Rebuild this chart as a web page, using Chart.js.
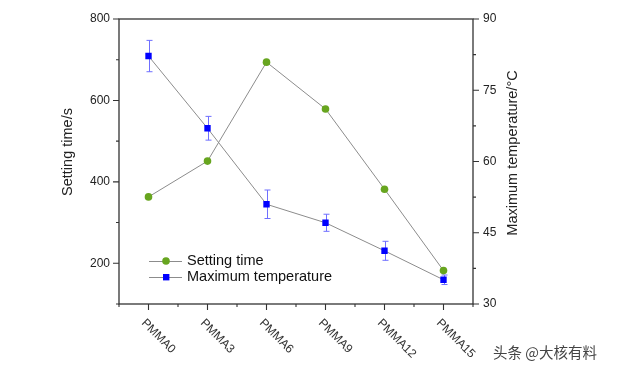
<!DOCTYPE html>
<html>
<head>
<meta charset="utf-8">
<script src="https://cdn.jsdelivr.net/npm/chart.js@4/dist/chart.umd.min.js"></script>
<style>
html, body { margin: 0; padding: 0; background: #fff; }
</style>
</head>
<body>
<canvas id="chart" width="617" height="371"></canvas>
<script>
// data
const categories = ['PMMA0', 'PMMA3', 'PMMA6', 'PMMA9', 'PMMA12', 'PMMA15'];
const settingTime = [363, 451, 694, 579, 382, 182];
const maxTemp = [82.2, 67.0, 51.0, 47.1, 41.2, 35.1];
const maxTempErr = [3.3, 2.5, 3.0, 1.8, 2.0, 1.0];
const leftTickLabels = [200, 400, 600, 800];
const rightTickLabels = [30, 45, 60, 75, 90];

const green = '#67a51f';
const blue = '#0000ff';
const errColor = '#6f6fff';
const lineColor = '#8c8c8c';
const axisColor = '#333';
const fontFamily = '"Liberation Sans", Arial, sans-serif';

Chart.defaults.font.family = fontFamily;

const framePlugin = {
    id: 'frame',
    beforeDatasetsDraw(chart) {
        const ctx = chart.ctx;
        const x = chart.scales.x, yR = chart.scales.yR;
        ctx.save();
        ctx.strokeStyle = errColor;
        ctx.lineWidth = 1;
        maxTemp.forEach(function(v, i) {
            const px = Math.round(x.getPixelForValue(i)) + 0.5;
            const top = yR.getPixelForValue(v + maxTempErr[i]);
            const bot = yR.getPixelForValue(v - maxTempErr[i]);
            ctx.beginPath();
            ctx.moveTo(px, top); ctx.lineTo(px, bot);
            ctx.moveTo(px - 3, top); ctx.lineTo(px + 3, top);
            ctx.moveTo(px - 3, bot); ctx.lineTo(px + 3, bot);
            ctx.stroke();
        });
        ctx.restore();
    },
    afterDraw(chart) {
        const ctx = chart.ctx;
        const a = chart.chartArea;
        const x = chart.scales.x, yL = chart.scales.yL, yR = chart.scales.yR;
        ctx.save();

        // frame
        ctx.strokeStyle = axisColor;
        ctx.lineWidth = 1.3;
        ctx.strokeRect(a.left, a.top, a.right - a.left, a.bottom - a.top);

        // tick marks
        ctx.lineWidth = 1.1;
        ctx.beginPath();
        yL.ticks.forEach(function(t) {
            const py = yL.getPixelForValue(t.value);
            const len = leftTickLabels.includes(t.value) ? 6 : 3;
            ctx.moveTo(a.left - len, py); ctx.lineTo(a.left, py);
        });
        yR.ticks.forEach(function(t) {
            const py = yR.getPixelForValue(t.value);
            const major = rightTickLabels.some(v => Math.abs(v - t.value) < 0.01);
            ctx.moveTo(a.right, py); ctx.lineTo(a.right + (major ? 6 : 3), py);
        });
        categories.forEach(function(c, i) {
            const px = x.getPixelForValue(i);
            ctx.moveTo(px, a.bottom); ctx.lineTo(px, a.bottom + 6);
            const half = (x.getPixelForValue(1) - x.getPixelForValue(0)) / 2;
            ctx.moveTo(px - half, a.bottom); ctx.lineTo(px - half, a.bottom + 3);
            ctx.moveTo(px + half, a.bottom); ctx.lineTo(px + half, a.bottom + 3);
        });
        ctx.stroke();

        // rotated category labels
        ctx.fillStyle = '#333';
        ctx.font = '12px ' + fontFamily;
        ctx.textAlign = 'left';
        ctx.textBaseline = 'top';
        categories.forEach(function(c, i) {
            const px = x.getPixelForValue(i);
            ctx.save();
            ctx.translate(px - 1, a.bottom + 13);
            ctx.rotate(Math.PI / 4);
            ctx.fillText(c, 0, 0);
            ctx.restore();
        });

        // axis titles
        ctx.fillStyle = '#222';
        ctx.font = '14.5px ' + fontFamily;
        ctx.textAlign = 'center';
        ctx.textBaseline = 'middle';
        ctx.save();
        ctx.translate(68, 152);
        ctx.rotate(-Math.PI / 2);
        ctx.fillText('Setting time/s', 0, 0);
        ctx.restore();
        ctx.save();
        ctx.translate(513, 153);
        ctx.rotate(-Math.PI / 2);
        ctx.fillText('Maximum temperature/\u00B0C', 0, 0);
        ctx.restore();

        // legend
        const rows = [
            { label: chart.data.datasets[0].label, y: 261, shape: 'circle' },
            { label: chart.data.datasets[1].label, y: 277, shape: 'rect' }
        ];
        ctx.textAlign = 'left';
        rows.forEach(function(r) {
            ctx.strokeStyle = lineColor;
            ctx.lineWidth = 1;
            ctx.beginPath();
            ctx.moveTo(149, r.y + 0.5); ctx.lineTo(182, r.y + 0.5);
            ctx.stroke();
            if (r.shape === 'circle') {
                ctx.fillStyle = green;
                ctx.beginPath();
                ctx.arc(166, r.y, 3.8, 0, Math.PI * 2);
                ctx.fill();
            } else {
                ctx.fillStyle = blue;
                ctx.fillRect(163, r.y - 3, 6.4, 6.4);
            }
            ctx.fillStyle = '#111';
            ctx.fillText(r.label, 187, r.y);
        });

        // watermark
        ctx.fillStyle = '#444';
        ctx.font = '14.5px "Noto Sans CJK SC", sans-serif';
        ctx.fillText('头条 @大核有料', 493, 352);
        ctx.restore();
    }
};

const ctx = document.getElementById('chart').getContext('2d');
const chart = new Chart(ctx, {
    type: 'line',
    data: {
        labels: categories,
        datasets: [{
            label: 'Setting time',
            data: settingTime,
            yAxisID: 'yL',
            borderColor: lineColor,
            borderWidth: 1,
            tension: 0,
            pointStyle: 'circle',
            pointRadius: 3.8,
            pointBorderWidth: 0,
            pointBackgroundColor: green,
            pointBorderColor: green
        }, {
            label: 'Maximum temperature',
            data: maxTemp,
            yAxisID: 'yR',
            borderColor: lineColor,
            borderWidth: 1,
            tension: 0,
            pointStyle: 'rect',
            pointRadius: 4.5,
            pointBorderWidth: 0,
            pointBackgroundColor: blue,
            pointBorderColor: blue
        }]
    },
    options: {
        responsive: false,
        animation: false,
        layout: { padding: { top: 19, left: 0, right: 0, bottom: 0 } },
        plugins: {
            legend: { display: false },
            tooltip: { enabled: false }
        },
        scales: {
            x: {
                type: 'category',
                offset: true,
                grid: { display: false, drawTicks: false },
                border: { display: false },
                ticks: { display: false },
                afterFit: function(s) { s.height = 67; }
            },
            yL: {
                position: 'left',
                min: 100,
                max: 800,
                grid: { display: false, drawTicks: false, tickLength: 0 },
                border: { display: false },
                ticks: {
                    stepSize: 100,
                    padding: 9,
                    color: '#222',
                    font: { size: 12 },
                    callback: function(v) { return leftTickLabels.includes(v) ? String(v) : ''; }
                },
                afterFit: function(s) { s.width = 119; }
            },
            yR: {
                position: 'right',
                min: 30,
                max: 90,
                grid: { display: false, drawTicks: false, tickLength: 0 },
                border: { display: false },
                ticks: {
                    stepSize: 7.5,
                    padding: 10,
                    color: '#222',
                    font: { size: 12 },
                    callback: function(v) {
                        const hit = rightTickLabels.find(t => Math.abs(t - v) < 0.01);
                        return hit !== undefined ? String(hit) : '';
                    }
                },
                afterFit: function(s) { s.width = 144; }
            }
        }
    },
    plugins: [framePlugin]
});
</script>
</body>
</html>
